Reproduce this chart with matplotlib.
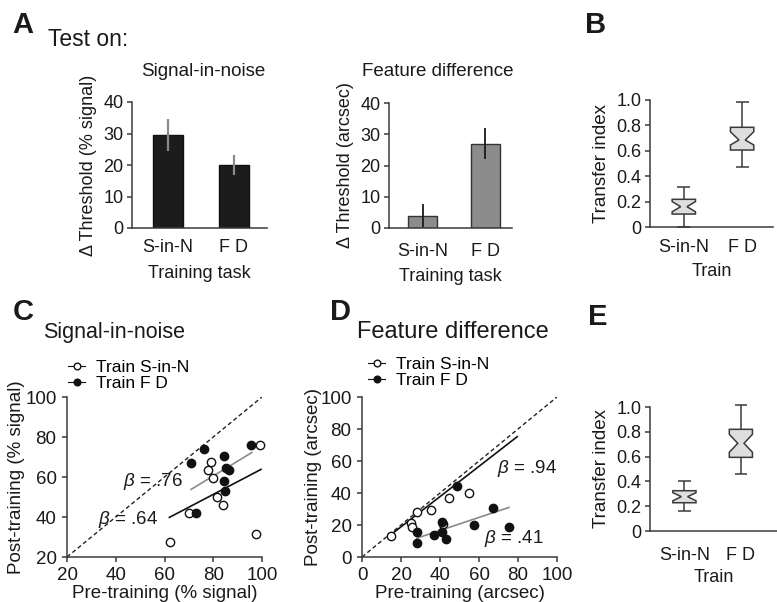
import matplotlib
matplotlib.use('Agg')
import matplotlib.pyplot as plt
from matplotlib.lines import Line2D

plt.rcParams['font.family'] = ['Liberation Sans', 'DejaVu Sans']
plt.rcParams['mathtext.fontset'] = 'custom'
plt.rcParams['mathtext.it'] = 'Liberation Sans:italic'
plt.rcParams['mathtext.rm'] = 'Liberation Sans'

# ---- data ----
train_tasks = ['S-in-N', 'F D']

# panel A: change in threshold
sin_delta = [29.5, 20.0]
sin_delta_err = [5.2, 3.3]
fd_delta = [4.0, 27.0]
fd_delta_err = [3.6, 5.0]

# panel B / E: transfer index boxes (S-in-N, F D)
b_whislo = [0.0, 0.475]
b_q1 = [0.102, 0.606]
b_cilo = [0.12, 0.646]
b_med = [0.16, 0.685]
b_cihi = [0.20, 0.75]
b_q3 = [0.218, 0.785]
b_whishi = [0.317, 0.987]

e_whislo = [0.161, 0.46]
e_q1 = [0.228, 0.594]
e_cilo = [0.244, 0.635]
e_med = [0.277, 0.707]
e_cihi = [0.309, 0.78]
e_q3 = [0.325, 0.82]
e_whishi = [0.403, 1.02]

# panel C: signal-in-noise, pre vs post (% signal)
c_open_x = [62.3, 70.2, 97.4, 79.1, 77.7, 79.8, 81.7, 84.1, 99.2]
c_open_y = [27.3, 42.2, 31.5, 67.7, 63.5, 59.3, 50.2, 45.8, 76.0]
c_fill_x = [70.9, 76.2, 84.4, 85.1, 86.5, 84.5, 84.8, 72.8, 95.4]
c_fill_y = [66.8, 73.8, 70.5, 64.3, 63.5, 58.2, 53.0, 41.8, 76.0]
c_fit_open_x = [62.0, 99.6]
c_fit_open_y = [39.8, 63.8]
c_fit_fill_x = [70.9, 95.8]
c_fit_fill_y = [53.8, 72.2]

# panel D: feature difference, pre vs post (arcsec)
d_open_x = [14.7, 25.0, 25.8, 28.0, 35.4, 44.8, 55.0, 41.4]
d_open_y = [13.3, 21.0, 18.9, 28.3, 29.4, 37.1, 39.8, 20.4]
d_fill_x = [48.5, 28.0, 28.0, 36.9, 41.2, 41.2, 43.1, 57.4, 67.0, 75.4]
d_fill_y = [44.6, 15.8, 8.5, 13.75, 22.0, 15.4, 11.25, 20.0, 30.4, 18.5]
d_fit_open_x = [13.5, 79.6]
d_fit_open_y = [12.7, 75.2]
d_fit_fill_x = [28.0, 75.4]
d_fit_fill_y = [11.7, 31.0]

W, H = 777, 602
AX_COL = '#3a3a3a'
TXT = '#1a1a1a'

fig = plt.figure(figsize=(W / 100, H / 100), dpi=100)


def add_ax(x0, y0, x1, y1):
    # pixel box -> figure fraction
    return fig.add_axes([x0 / W, 1 - y1 / H, (x1 - x0) / W, (y1 - y0) / H])


def style(ax, fs=13):
    for s in ['top', 'right']:
        ax.spines[s].set_visible(False)
    for s in ['left', 'bottom']:
        ax.spines[s].set_color(AX_COL)
        ax.spines[s].set_linewidth(1.1)
    ax.tick_params(direction='out', length=3.5, width=1.1, color=AX_COL,
                   labelsize=fs, labelcolor=TXT, pad=2.5)


def ftext(x, y, s, **kw):
    fig.text(x / W, 1 - y / H, s, color=TXT, **kw)


def notched(ax, pos, lo, q1, cilo, med, cihi, q3, hi, width=0.4, nfrac=0.27, cap=0.22):
    hw = width / 2
    nw = hw * nfrac
    xs = [pos - hw, pos + hw, pos + hw, pos + nw, pos + hw, pos + hw,
          pos - hw, pos - hw, pos - nw, pos - hw]
    ys = [q1, q1, cilo, med, cihi, q3, q3, cihi, med, cilo]
    ax.vlines([pos, pos], [lo, q3], [q1, hi], color=AX_COL, lw=1.1, clip_on=False)
    ax.hlines([lo, hi], pos - cap / 2, pos + cap / 2, color=AX_COL, lw=1.1, clip_on=False)
    ax.fill(xs, ys, facecolor='#dedede', edgecolor=AX_COL, lw=1.1, clip_on=False, zorder=3)


def legend(ax, x, y):
    handles = [Line2D([0], [0], color='#111111', lw=0.8, marker='o', ms=4.8, mfc='white', mec='#111111'),
               Line2D([0], [0], color='#111111', lw=0.8, marker='o', ms=4.8, mfc='#111111', mec='#111111')]
    ax.legend(handles, ['Train S-in-N', 'Train F D'], loc='upper left', bbox_to_anchor=(x / W, 1 - y / H),
              bbox_transform=fig.transFigure, frameon=False, fontsize=12.5, handlelength=1.0,
              handletextpad=0.6, labelspacing=0.02, borderpad=0, borderaxespad=0)


# ---------------- panel A ----------------
ax = add_ax(132, 102, 267, 228)
style(ax)
pos = range(len(train_tasks))
ax.bar(pos, sin_delta, width=0.455, color='#1c1c1c', edgecolor='#111111', lw=1)
ax.errorbar(pos, sin_delta, yerr=sin_delta_err, fmt='none', ecolor='#8a8a8a', elinewidth=1.6, capsize=0)
ax.set_xlim(-0.545, 1.5)
ax.set_ylim(0, 40)
ax.set_yticks([0, 10, 20, 30, 40])
ax.set_xticks(list(pos), train_tasks)
ax.tick_params(axis='x', length=0, pad=8)
ax.set_xlabel('Training task', fontsize=13, color=TXT, labelpad=6.5)
ax.set_ylabel('\u0394 Threshold (% signal)', fontsize=13, color=TXT)
ax.yaxis.set_label_coords(-0.26, 0.5)

ax = add_ax(389, 103, 512, 228)
style(ax)
ax.bar(pos, fd_delta, width=0.464, color='#8c8c8c', edgecolor='#333333', lw=1)
ax.errorbar(pos, fd_delta, yerr=fd_delta_err, fmt='none', ecolor='#1a1a1a', elinewidth=1.3, capsize=0)
ax.set_xlim(-0.536, 1.43)
ax.set_ylim(0, 40)
ax.set_yticks([0, 10, 20, 30, 40])
ax.set_xticks(list(pos), train_tasks)
ax.tick_params(axis='x', length=0, pad=11)
ax.set_xlabel('Training task', fontsize=13, color=TXT, labelpad=5.5)
ax.set_ylabel('\u0394 Threshold (arcsec)', fontsize=13, color=TXT)
ax.yaxis.set_label_coords(-0.285, 0.5)

ftext(12, 33, 'A', fontsize=21, fontweight='bold', va='baseline')
ftext(48, 46, 'Test on:', fontsize=16.5, va='baseline')
ftext(203.5, 72, 'Signal-in-noise', fontsize=13.5, ha='center', va='center')
ftext(437.5, 71, 'Feature difference', fontsize=13.5, ha='center', va='center')

# ---------------- panel B ----------------
ax = add_ax(650, 100, 773, 227)
style(ax)
for i in range(2):
    notched(ax, i, b_whislo[i], b_q1[i], b_cilo[i], b_med[i], b_cihi[i], b_q3[i], b_whishi[i])
ax.set_xlim(-0.58, 1.53)
ax.set_ylim(0, 1.0)
ax.set_yticks([0, 0.2, 0.4, 0.6, 0.8, 1.0], ['0', '0.2', '0.4', '0.6', '0.8', '1.0'])
ax.set_xticks([0, 1], train_tasks)
ax.tick_params(axis='x', length=0, pad=8.5)
ax.set_xlabel('Train', fontsize=13, color=TXT, labelpad=5)
ax.set_ylabel('Transfer index', fontsize=13.5, color=TXT)
ax.yaxis.set_label_coords(-0.325, 0.5)
ftext(585, 33, 'B', fontsize=21, fontweight='bold', va='baseline')

# ---------------- panel C ----------------
ax = add_ax(67, 397, 262, 557)
style(ax, 13.5)
ax.tick_params(pad=4)
ax.plot([20, 100], [20, 100], ls=(0, (3, 2)), color='#222222', lw=1)
ax.plot(c_fit_open_x, c_fit_open_y, color='#111111', lw=1.2)
ax.plot(c_fit_fill_x, c_fit_fill_y, color='#8a8a8a', lw=1.2)
ax.scatter(c_open_x, c_open_y, s=36, facecolor='white', edgecolor='#111111', lw=1, zorder=3, clip_on=False)
ax.scatter(c_fill_x, c_fill_y, s=36, facecolor='#111111', edgecolor='#111111', lw=1, zorder=3, clip_on=False)
ax.set_xlim(20, 100)
ax.set_ylim(20, 100)
ax.set_xticks([20, 40, 60, 80, 100])
ax.set_yticks([20, 40, 60, 80, 100])
ax.text(43, 57.6, r'$\beta$ = .76', fontsize=13.5, va='center', color=TXT)
ax.text(32.8, 38.5, r'$\beta$ = .64', fontsize=13.5, va='center', color=TXT)
ax.set_xlabel('Pre-training (% signal)', fontsize=13.5, color=TXT, labelpad=0.5)
ax.set_ylabel('Post-training (% signal)', fontsize=13.5, color=TXT)
ax.yaxis.set_label_coords(-0.215, 0.5)
legend(ax, 68, 360)
ftext(13, 320, 'C', fontsize=21, fontweight='bold', va='baseline')
ftext(43, 338, 'Signal-in-noise', fontsize=15.5, va='baseline')

# ---------------- panel D ----------------
ax = add_ax(362, 397, 557, 557)
style(ax, 13.5)
ax.tick_params(pad=4)
ax.plot([0, 100], [0, 100], ls=(0, (3, 2)), color='#222222', lw=1)
ax.plot(d_fit_open_x, d_fit_open_y, color='#111111', lw=1.2)
ax.plot(d_fit_fill_x, d_fit_fill_y, color='#8a8a8a', lw=1.2)
ax.scatter(d_open_x, d_open_y, s=36, facecolor='white', edgecolor='#111111', lw=1, zorder=3, clip_on=False)
ax.scatter(d_fill_x, d_fill_y, s=36, facecolor='#111111', edgecolor='#111111', lw=1, zorder=3, clip_on=False)
ax.set_xlim(0, 100)
ax.set_ylim(0, 100)
ax.set_xticks([0, 20, 40, 60, 80, 100])
ax.set_yticks([0, 20, 40, 60, 80, 100])
ax.text(69, 55.4, r'$\beta$ = .94', fontsize=13.5, va='center', color=TXT)
ax.text(62.6, 11.7, r'$\beta$ = .41', fontsize=13.5, va='center', color=TXT)
ax.set_xlabel('Pre-training (arcsec)', fontsize=13.5, color=TXT, labelpad=0.5)
ax.set_ylabel('Post-training (arcsec)', fontsize=13.5, color=TXT)
ax.yaxis.set_label_coords(-0.205, 0.5)
legend(ax, 368, 357)
ftext(330, 320, 'D', fontsize=21, fontweight='bold', va='baseline')
ftext(357, 338, 'Feature difference', fontsize=17, va='baseline')

# ---------------- panel E ----------------
ax = add_ax(650, 407, 777, 531)
style(ax)
for i in range(2):
    notched(ax, i, e_whislo[i], e_q1[i], e_cilo[i], e_med[i], e_cihi[i], e_q3[i], e_whishi[i], width=0.41)
ax.set_xlim(-0.61, 1.64)
ax.set_ylim(0, 1.0)
ax.set_yticks([0, 0.2, 0.4, 0.6, 0.8, 1.0], ['0', '0.2', '0.4', '0.6', '0.8', '1.0'])
ax.set_xticks([0, 1], train_tasks)
ax.tick_params(axis='x', length=0, pad=11.5)
ax.set_xlabel('Train', fontsize=13, color=TXT, labelpad=3.5)
ax.set_ylabel('Transfer index', fontsize=13.5, color=TXT)
ax.yaxis.set_label_coords(-0.315, 0.5)
ftext(588, 325, 'E', fontsize=21, fontweight='bold', va='baseline')

fig.savefig('out.png', dpi=100)
